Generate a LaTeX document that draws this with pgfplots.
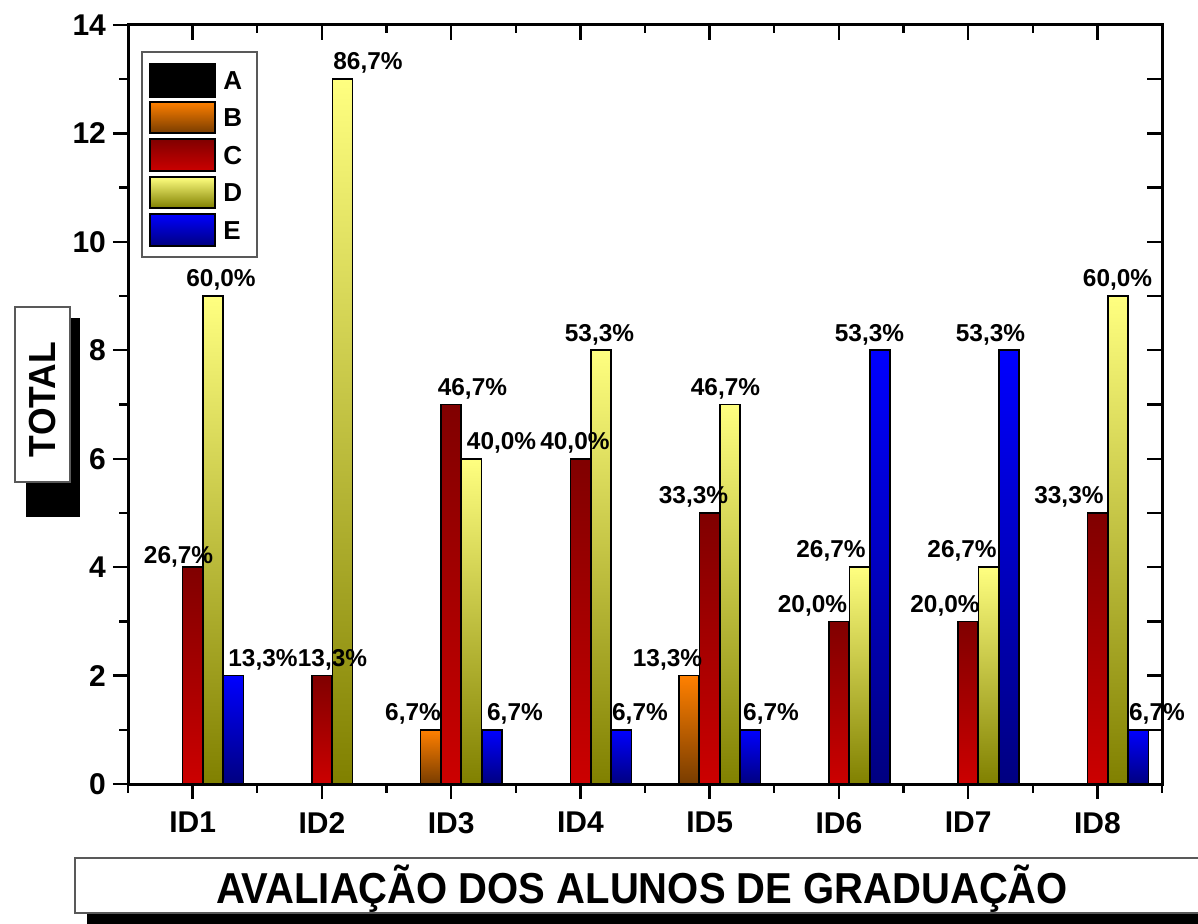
\documentclass[border=0pt]{standalone}
\usepackage{pgfplots}
\pgfplotsset{compat=1.18}
\usepackage{pgfplotstable}
\usepackage{fontspec}
\setmainfont{Liberation Sans}
\usepackage{graphicx}

\definecolor{Btop}{RGB}{255,128,0}
\definecolor{Bbot}{RGB}{120,60,0}
\definecolor{Ctop}{RGB}{128,0,0}
\definecolor{Cbot}{RGB}{204,0,0}
\definecolor{Dtop}{RGB}{255,255,128}
\definecolor{Dbot}{RGB}{128,128,0}
\definecolor{Etop}{RGB}{0,0,255}
\definecolor{Ebot}{RGB}{0,0,128}

\pgfplotstableread{
x A B C D E
1 0 0 4 9 2
2 0 0 2 13 0
3 0 1 7 6 1
4 0 0 6 8 1
5 0 2 5 7 1
6 0 0 3 4 8
7 0 0 3 4 8
8 0 0 5 9 1
}\datatable

\tikzset{lbl/.style={font=\fontsize{12.2}{14}\selectfont\bfseries, inner sep=0pt, anchor=base}}
\pgfplotsset{
  onebar/.style 2 args={ybar, bar width=10pt, bar shift=#1, draw=black, line width=0.8pt,
    x filter/.expression={\coordindex==#2 ? x : nan},
    y filter/.expression={y==0 ? nan : y}},
}

\begin{document}
\begin{tikzpicture}
\path[use as bounding box] (0,0) rectangle (599pt,461.5pt);
% y title
\fill[black] (13pt,203pt) rectangle (40pt,302.5pt);
\draw[fill=white, draw=black!65, line width=0.6pt] (7.5pt,220.5pt) rectangle (35pt,308pt);
\node[rotate=90, anchor=base, inner sep=0pt] at (27.5pt,261.75pt) {\resizebox{57.5pt}{\height}{\fontsize{18.85}{20}\selectfont\bfseries TOTAL}};
% x title
\fill[black] (43.5pt,-10pt) rectangle (620pt,5pt);
\draw[fill=white, draw=black!65, line width=0.6pt] (37.5pt,5pt) rectangle (620pt,32.5pt);
\node[anchor=base, inner sep=0pt] at (321pt,10pt) {\resizebox{426pt}{\height}{\fontsize{21.65}{24}\selectfont\bfseries AVALIAÇÃO DOS ALUNOS DE GRADUAÇÃO}};

\begin{axis}[
  at={(64pt,69.5pt)}, anchor=south west,
  width=517pt, height=379.5pt, scale only axis,
  xmin=0.5, xmax=8.5, ymin=0, ymax=14,
  xtick={1,...,8}, xticklabels={ID1,ID2,ID3,ID4,ID5,ID6,ID7,ID8},
  minor xtick={0.5,1.5,...,8.5},
  ytick={0,2,...,14}, minor ytick={1,3,...,13},
  xtick pos=left, ytick pos=left,
  tick align=outside,
  major tick length=7.5pt, minor tick length=4.25pt,
  every tick/.append style={black, line width=1.2pt},
  tick label style={font=\fontsize{15}{17}\selectfont\bfseries},
  xticklabel shift=3pt,
  /pgf/number format/assume math mode=true,
  clip=false,
]
\pgfplotsinvokeforeach{0,...,7}{
  \addplot[onebar={-10.25pt}{#1}, top color=Btop, bottom color=Bbot] table[x=x,y=B]{\datatable};
  \addplot[onebar={0pt}{#1}, top color=Ctop, bottom color=Cbot] table[x=x,y=C]{\datatable};
  \addplot[onebar={10.25pt}{#1}, top color=Dtop, bottom color=Dbot] table[x=x,y=D]{\datatable};
  \addplot[onebar={20.5pt}{#1}, top color=Etop, bottom color=Ebot] table[x=x,y=E]{\datatable};
}
% value labels
\node[lbl] at (axis cs:0.891,4.06) {26,7\%};
\node[lbl] at (axis cs:1.2195,9.17) {60,0\%};
\node[lbl] at (axis cs:1.5445,2.17) {13,3\%};
\node[lbl] at (axis cs:2.082,2.17) {13,3\%};
\node[lbl] at (axis cs:2.357,13.17) {86,7\%};
\node[lbl] at (axis cs:2.705,1.17) {6,7\%};
\node[lbl] at (axis cs:3.165,7.17) {46,7\%};
\node[lbl] at (axis cs:3.390,6.17) {40,0\%};
\node[lbl] at (axis cs:3.494,1.17) {6,7\%};
\node[lbl] at (axis cs:3.958,6.17) {40,0\%};
\node[lbl] at (axis cs:4.148,8.17) {53,3\%};
\node[lbl] at (axis cs:4.461,1.17) {6,7\%};
\node[lbl] at (axis cs:4.674,2.17) {13,3\%};
\node[lbl] at (axis cs:4.875,5.17) {33,3\%};
\node[lbl] at (axis cs:5.123,7.17) {46,7\%};
\node[lbl] at (axis cs:5.475,1.17) {6,7\%};
\node[lbl] at (axis cs:5.796,3.17) {20,0\%};
\node[lbl] at (axis cs:5.939,4.17) {26,7\%};
\node[lbl] at (axis cs:6.237,8.17) {53,3\%};
\node[lbl] at (axis cs:6.821,3.17) {20,0\%};
\node[lbl] at (axis cs:6.953,4.17) {26,7\%};
\node[lbl] at (axis cs:7.173,8.17) {53,3\%};
\node[lbl] at (axis cs:7.780,5.17) {33,3\%};
\node[lbl] at (axis cs:8.156,9.17) {60,0\%};
\node[lbl] at (axis cs:8.461,1.17) {6,7\%};
\end{axis}

\begin{axis}[
  at={(64pt,69.5pt)}, anchor=south west,
  width=517pt, height=379.5pt, scale only axis,
  xmin=0.5, xmax=8.5, ymin=0, ymax=14,
  xtick={1,...,8}, minor xtick={0.5,1.5,...,8.5},
  ytick={0,1,...,14},
  xticklabels={}, yticklabels={},
  xtick pos=right, ytick pos=right,
  tick align=inside,
  major tick length=7.5pt, minor tick length=4.25pt,
  every tick/.append style={black, line width=1.2pt},
  clip=false,
]
\draw[black, line width=1.5pt, line join=miter] (rel axis cs:0,0) rectangle (rel axis cs:1,1);
\end{axis}

% legend
\draw[fill=white, draw=black!65, line width=0.6pt] (71pt,333pt) rectangle (128.5pt,435.5pt);
\draw[black, fill=black, line width=0.8pt] (75pt,413pt) rectangle (107.5pt,429.5pt);
\draw[black, line width=0.8pt, top color=Btop, bottom color=Bbot] (75pt,395pt) rectangle (107.5pt,410.5pt);
\draw[black, line width=0.8pt, top color=Ctop, bottom color=Cbot] (75pt,376pt) rectangle (107.5pt,392pt);
\draw[black, line width=0.8pt, top color=Dtop, bottom color=Dbot] (75pt,357.5pt) rectangle (107.5pt,373pt);
\draw[black, line width=0.8pt, top color=Etop, bottom color=Ebot] (75pt,338.5pt) rectangle (107.5pt,354.5pt);
\begin{scope}[every node/.style={font=\fontsize{13}{15}\selectfont\bfseries, inner sep=0pt, anchor=base west}]
\node at (111.5pt,416.6pt) {A};
\node at (111.5pt,398.1pt) {B};
\node at (111.5pt,379.4pt) {C};
\node at (111.5pt,360.6pt) {D};
\node at (111.5pt,341.9pt) {E};
\end{scope}
\end{tikzpicture}
\end{document}
